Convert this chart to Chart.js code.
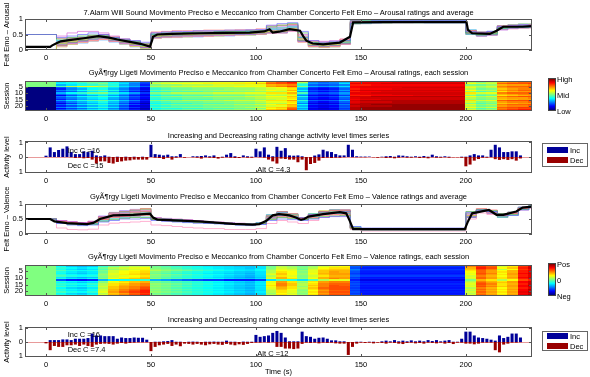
<!DOCTYPE html>
<html>
<head>
<meta charset="utf-8">
<script src="https://cdn.jsdelivr.net/npm/chart.js@4.4.1/dist/chart.umd.min.js"></script>
<style>
  body { margin: 0; background: #fff; }
  #fig { position: relative; width: 590px; height: 377px; background: #fff; overflow: hidden;
         font-family: 'Liberation Sans', Arial, sans-serif; font-size: 7.5px; color: #000; }
  #fig canvas { position: absolute; left: 0; }
  .title { position: absolute; left: 25px; width: 507px; text-align: center; white-space: nowrap; line-height: 9px; }
  .lbl { position: absolute; white-space: nowrap; line-height: 9px; }
  .cbar { position: absolute; left: 548px; width: 8px; box-sizing: border-box; border: 1px solid #444;
          background: linear-gradient(to top, #00007f 0%, #0000ff 12.5%, #00ffff 37.5%, #ffff00 62.5%, #ff0000 87.5%, #7f0000 100%); }
  .legend { position: absolute; left: 542px; width: 44px; border: 1px solid #666; background: #fff; }
  .sw { position: absolute; left: 547px; width: 21px; height: 6px; }
</style>
</head>
<body>
<div id="fig">
  <canvas id="c1" width="590" height="70" style="top:0px"></canvas>
  <canvas id="c2" width="590" height="52" style="top:72px"></canvas>
  <canvas id="c3" width="590" height="55" style="top:131px"></canvas>
  <canvas id="c4" width="590" height="72" style="top:184px"></canvas>
  <canvas id="c5" width="590" height="54" style="top:255px"></canvas>
  <canvas id="c6" width="590" height="61" style="top:316px"></canvas>

  <div class="title" style="top:7.8px">7.Alarm Will Sound Movimento Preciso e Meccanico from Chamber Concerto Felt Emo – Arousal ratings and average</div>
  <div class="title" style="top:68.3px">GyÃ¶rgy Ligeti Movimento Preciso e Meccanico from Chamber Concerto Felt Emo – Arousal ratings, each session</div>
  <div class="title" style="top:130.6px">Increasing and Decreasing rating change activity level times series</div>
  <div class="title" style="top:192.3px">GyÃ¶rgy Ligeti Movimento Preciso e Meccanico from Chamber Concerto Felt Emo – Valence ratings and average</div>
  <div class="title" style="top:252.3px">GyÃ¶rgy Ligeti Movimento Preciso e Meccanico from Chamber Concerto Felt Emo – Valence ratings, each session</div>
  <div class="title" style="top:315px">Increasing and Decreasing rating change activity level times series</div>

  <div class="cbar" style="top:78px; height:33px"></div>
  <div class="lbl" style="left:557px; top:75px">High</div>
  <div class="lbl" style="left:557px; top:90.6px">Mid</div>
  <div class="lbl" style="left:557px; top:106.6px">Low</div>

  <div class="cbar" style="top:263px; height:33px"></div>
  <div class="lbl" style="left:557px; top:260px">Pos</div>
  <div class="lbl" style="left:557px; top:276px">0</div>
  <div class="lbl" style="left:557px; top:291.6px">Neg</div>

  <div class="legend" style="top:143px; height:22px"></div>
  <div class="sw" style="top:147px; background:#000099"></div>
  <div class="sw" style="top:157px; background:#990000"></div>
  <div class="lbl" style="left:570px; top:145.6px">Inc</div>
  <div class="lbl" style="left:570px; top:155.6px">Dec</div>

  <div class="legend" style="top:331px; height:18px"></div>
  <div class="sw" style="top:333px; background:#000099"></div>
  <div class="sw" style="top:343px; background:#990000"></div>
  <div class="lbl" style="left:570px; top:332.3px">Inc</div>
  <div class="lbl" style="left:570px; top:341.6px">Dec</div>

  <div class="lbl" style="left:67.7px; top:145.8px">Inc C =16</div>
  <div class="lbl" style="left:67.7px; top:161px">Dec C =15</div>
  <div class="lbl" style="left:257.3px; top:165px">Alt C =4.3</div>
  <div class="lbl" style="left:67.7px; top:330px">Inc C =16</div>
  <div class="lbl" style="left:67.7px; top:345px">Dec C =7.4</div>
  <div class="lbl" style="left:257.3px; top:349px">Alt C =12</div>
</div>

<script>
// Felt emotion ratings, one row per session (23 sessions), values in percent of the 0..1 scale
// each value holds from sessionTimes[c] to sessionTimes[c + 1]

const xTickValues = [0, 50, 100, 150, 200];
const sessionTimes = [-10, -5, 0, 5, 10, 15, 20, 25, 30, 35, 40, 45, 50, 55, 60, 65, 70, 75, 80, 85, 90, 95,
    100, 105, 110, 115, 120, 125, 130, 135, 140, 145, 150, 155, 160, 165, 170, 175, 180, 185, 190, 195,
    200, 205, 210, 215, 220, 225, 230, 235];

const arousalSessions = [
    [50,50,50, 40,45,50,55, 50,40,35,30,25, 55,58,60,60,62,62,62,64,64,65,66, 80,85,88, 60,30,25,28,30, 88,88,88,90,90,90,90,88,88,88,88, 60,55,60, 75,78,80,80],
    [50,50,50, 35,40,45,48, 45,38,32,28,20, 52,55,55,56,58,58,60,60,60,62,62, 75,80,85, 55,25,22,25,30, 85,88,88,88,90,90,90,90,90,90,90, 55,50,55, 72,75,78,78],
    [50,50,50, 38,38,40,45, 50,42,35,25,18, 58,60,62,62,62,64,64,64,65,65,68, 78,80,82, 45,28,25,25,35, 90,90,90,92,92,92,92,92,92,92,92, 62,58,58, 78,80,80,82],
    [50,50,50, 30,35,40,42, 45,40,30,25,15, 50,52,52,55,55,55,58,58,58,60,60, 70,72,75, 40,22,20,22,25, 85,85,88,88,88,88,88,88,88,88,88, 50,48,52, 70,72,72,75],
    [50,50,50, 45,55,60,60, 55,45,35,30,22, 55,55,58,58,60,60,60,60,62,62,62, 72,75,80, 50,30,28,30,35, 88,90,90,90,90,90,90,90,90,90,90, 58,55,58, 75,78,78,80],
    [0,0,0, 20,28,35,40, 42,35,28,20,12, 45,48,50,50,52,52,52,52,54,54,56, 60,62,68, 35,18,15,18,25, 88,90,90,90,90,92,92,92,92,92,92, 60,52,55, 72,75,75,78],
    [0,0,0, 15,25,30,38, 40,32,25,18,10, 42,45,48,48,50,50,50,52,52,52,55, 58,60,65, 30,15,12,15,22, 85,88,88,88,90,90,90,90,90,90,90, 55,48,50, 68,72,75,75],
    [0,0,0, 25,30,38,45, 48,40,30,22,15, 48,50,50,52,52,52,54,54,54,55,58, 62,60,70, 38,20,18,20,28, 90,92,92,92,92,92,92,92,92,92,92, 62,55,55, 72,75,78,78],
    [0,0,0, 18,22,28,35, 38,30,22,15,8, 40,42,45,45,45,48,48,48,50,50,52, 55,55,62, 28,15,12,15,20, 85,88,88,90,90,90,90,90,90,90,90, 52,45,48, 65,70,72,72],
    [0,0,0, 30,38,42,48, 50,42,35,28,18, 50,52,55,55,55,55,58,58,58,60,60, 65,65,70, 45,22,20,22,28, 90,90,92,92,92,92,92,92,92,92,92, 65,58,60, 75,78,78,80],
    [0,0,0, 22,28,32,38, 40,35,28,20,12, 45,48,48,50,50,50,52,52,52,54,55, 60,58,65, 32,18,15,18,25, 88,90,90,90,92,92,92,92,92,92,92, 58,50,52, 70,72,75,75],
    [0,0,0, 12,20,25,30, 35,28,22,15,10, 38,42,42,45,45,45,48,48,48,50,52, 55,55,60, 25,12,10,12,18, 85,85,88,88,88,88,90,90,90,90,90, 50,45,48, 65,68,70,72],
    [0,0,0, 25,32,38,42, 45,38,30,22,15, 48,50,52,52,52,55,55,55,55,58,58, 62,62,68, 40,20,18,20,28, 92,92,95,95,95,95,95,95,95,95,95, 62,55,58, 75,78,80,80],
    [0,0,0, 20,25,30,35, 38,30,25,18,12, 42,45,45,48,48,48,50,50,50,52,55, 58,58,65, 30,15,12,15,22, 90,92,92,92,92,92,92,92,92,92,92, 55,50,52, 70,72,72,75],
    [0,0,0, 15,22,28,32, 35,28,22,15,8, 40,42,42,45,45,45,48,48,50,50,52, 55,58,62, 28,12,10,12,20, 88,90,90,92,92,92,92,92,92,92,92, 52,48,50, 68,70,72,72],
    [0,0,0, 28,35,40,45, 48,40,32,25,15, 50,52,52,55,55,55,55,58,58,58,60, 65,65,72, 42,22,20,22,30, 92,95,95,95,95,95,95,95,95,95,95, 65,58,60, 78,80,80,82],
    [0,0,0, 18,25,30,35, 40,32,25,18,10, 42,45,48,48,48,50,50,50,52,52,55, 60,60,65, 32,15,12,15,22, 90,92,92,92,95,95,95,95,95,95,95, 58,50,52, 72,75,75,78],
    [0,0,0, 10,18,25,30, 35,28,20,12,5, 38,40,42,42,45,45,45,48,48,48,50, 55,55,62, 25,10,8,10,18, 92,95,95,95,95,95,95,95,95,95,95, 50,45,48, 68,70,72,72],
    [0,0,0, 22,30,35,40, 42,35,28,20,12, 45,48,50,50,50,52,52,52,55,55,58, 62,65,70, 38,18,15,18,25, 95,95,98,98,98,98,98,98,98,98,98, 60,52,55, 75,78,78,80],
    [0,0,0, 15,20,25,30, 35,28,20,12,8, 40,42,45,45,45,48,48,48,50,50,52, 58,60,68, 30,12,10,12,20, 92,95,95,95,98,98,98,98,98,98,98, 55,48,50, 72,75,75,78],
    [0,0,0, 25,30,35,40, 42,35,25,18,10, 45,48,48,50,50,50,52,52,52,55,58, 65,68,75, 35,15,12,15,22, 95,98,98,98,98,98,98,98,98,98,98, 62,55,58, 78,80,82,82],
    [0,0,0, 12,18,22,28, 32,25,18,10,5, 38,40,40,42,42,45,45,45,48,48,50, 62,65,78, 28,10,8,10,18, 95,98,98,98,98,98,98,98,98,98,98, 52,45,48, 75,78,80,80],
    [0,0,0, 20,25,30,35, 38,30,22,15,8, 42,45,45,48,48,48,50,50,52,52,55, 68,70,80, 32,12,10,12,20, 95,98,98,98,98,98,98,98,98,98,98, 58,50,52, 78,82,85,85]
];

const valenceSessions = [
    [50,50,50, 35,30,28,30, 40,45,50,50,52, 45,42,40,38,36,35,34,32,30,30,32, 45,50,48, 45,50,55,58,58, 25,20,20,20,20,20,20,20,20,20,20, 72,80,75, 60,62,80,88],
    [50,50,50, 38,32,30,32, 42,48,52,55,55, 48,45,42,40,38,36,35,34,32,32,35, 48,55,52, 48,52,58,60,62, 22,18,18,18,18,18,18,18,18,18,18, 75,82,78, 58,65,82,90],
    [50,50,50, 42,38,35,38, 48,55,58,60,62, 50,48,45,42,40,38,36,35,34,32,35, 50,58,55, 50,55,62,65,65, 20,15,15,15,15,15,15,15,15,15,15, 70,85,80, 62,68,85,92],
    [50,50,50, 40,35,32,35, 45,52,55,58,60, 52,50,48,45,42,40,38,36,35,34,38, 52,60,58, 48,58,65,68,68, 25,18,18,18,18,18,18,18,18,18,18, 68,80,75, 55,62,82,88],
    [50,50,50, 45,40,38,40, 50,58,60,62,65, 55,52,50,48,45,42,40,38,36,35,38, 55,62,60, 52,60,68,70,70, 22,16,16,16,16,16,16,16,16,16,16, 65,78,72, 62,70,85,90],
    [50,50,50, 40,36,34,36, 48,58,62,64,66, 50,48,45,42,40,38,36,35,33,32,35, 55,65,62, 50,60,68,72,70, 20,15,15,15,15,15,15,15,15,15,15, 62,78,72, 65,70,85,90],
    [50,50,50, 38,34,32,35, 50,60,62,65,68, 48,45,42,40,38,36,35,33,32,30,35, 58,68,62, 52,62,70,72,72, 18,14,14,14,14,14,14,14,14,14,14, 60,80,75, 62,72,88,92],
    [50,50,50, 42,38,36,38, 52,60,64,66,68, 52,50,48,45,42,40,38,36,34,32,35, 60,68,62, 52,60,68,72,72, 20,16,16,16,16,16,16,16,16,16,16, 62,78,72, 65,72,85,90],
    [50,50,50, 44,40,38,40, 50,58,60,62,65, 50,48,45,42,40,38,36,34,32,30,34, 55,65,60, 50,58,65,70,70, 22,18,18,18,18,18,18,18,18,18,18, 58,75,70, 62,70,85,90],
    [50,50,50, 36,32,30,32, 48,58,62,64,68, 48,45,42,40,38,36,34,32,30,28,32, 58,70,62, 50,60,70,72,72, 18,14,14,14,14,14,14,14,14,14,14, 60,78,72, 65,72,88,92],
    [50,50,50, 40,36,35,38, 52,62,65,68,70, 52,48,46,44,42,40,38,35,33,32,35, 60,70,65, 52,62,70,75,72, 20,15,15,15,15,15,15,15,15,15,15, 58,78,72, 65,70,85,90],
    [50,50,50, 20,15,14,16, 30,36,38,40,42, 30,28,25,22,20,18,18,15,15,15,18, 35,45,40, 35,45,55,60,60, 15,10,10,10,10,10,10,10,10,10,10, 50,70,65, 55,62,80,85],
    [50,50,50, 42,38,36,38, 52,62,66,68,70, 50,48,46,44,42,40,38,36,34,32,36, 62,72,65, 55,65,72,75,75, 20,15,15,15,15,15,15,15,15,15,15, 55,75,70, 65,72,88,92],
    [50,50,50, 38,35,32,35, 50,60,64,68,70, 48,46,44,42,40,38,36,34,32,30,35, 60,72,65, 52,62,72,75,75, 18,14,14,14,14,14,14,14,14,14,14, 58,78,72, 68,72,88,92],
    [50,50,50, 42,40,38,42, 55,65,68,72,75, 52,50,48,45,42,40,38,36,34,32,36, 62,75,68, 55,65,75,78,78, 20,16,16,16,16,16,16,16,16,16,16, 60,80,75, 65,70,85,92],
    [50,50,50, 40,36,34,38, 55,65,70,72,75, 50,48,45,42,40,38,36,34,32,30,34, 65,75,68, 55,68,75,80,78, 18,14,14,14,14,14,14,14,14,14,14, 58,78,72, 65,72,88,95],
    [50,50,50, 44,40,38,42, 58,68,72,75,78, 52,50,48,45,42,40,38,35,33,32,36, 62,72,65, 52,65,75,80,80, 20,15,15,15,15,15,15,15,15,15,15, 60,80,75, 68,72,88,92],
    [50,50,50, 38,34,32,36, 55,68,72,75,80, 50,48,45,42,40,38,36,34,32,30,35, 60,70,65, 55,68,78,80,80, 18,14,14,14,14,14,14,14,14,14,14, 55,75,70, 62,70,85,90],
    [50,50,50, 42,38,36,40, 58,70,75,78,82, 52,50,48,45,42,40,38,36,34,32,35, 58,68,62, 52,65,75,80,80, 20,16,16,16,16,16,16,16,16,16,16, 58,78,72, 65,72,88,95],
    [50,50,50, 40,36,34,38, 58,70,75,80,85, 50,48,45,42,40,38,36,34,32,30,34, 55,65,60, 50,62,72,78,78, 18,14,14,14,14,14,14,14,14,14,14, 55,75,70, 62,70,88,92],
    [50,50,50, 44,40,38,42, 60,72,78,82,85, 52,50,48,45,42,40,38,36,34,32,36, 55,65,60, 52,65,75,80,80, 20,15,15,15,15,15,15,15,15,15,15, 58,78,72, 65,72,90,95],
    [50,50,50, 38,34,32,36, 55,68,72,78,82, 48,46,44,42,40,38,36,34,32,30,34, 52,62,58, 50,62,72,78,78, 18,14,14,14,14,14,14,14,14,14,14, 55,75,70, 62,70,88,92],
    [50,50,50, 40,36,34,38, 58,70,75,80,85, 50,48,45,42,40,38,36,34,32,30,34, 55,65,60, 52,65,75,80,80, 20,15,15,15,15,15,15,15,15,15,15, 58,78,72, 65,72,90,95]
];

// Average rating (thick black line), read at the turning points
const arousalAvgTimes = [-10, 2, 3, 5, 7, 11, 18, 25, 30, 34, 40, 45, 49.5, 50.5, 51, 53, 60, 73, 85, 97, 104, 106.5,
    108, 111, 116, 121, 122.5, 124, 127, 132, 140, 144.8, 146.3, 160, 180, 200.3, 201, 203, 211.4, 214.6, 217.8, 227, 231.5];
const arousalAvg = [0.1, 0.1, 0.15, 0.22, 0.28, 0.32, 0.38, 0.45, 0.4, 0.34, 0.26, 0.2, 0.11, 0.3, 0.43, 0.5, 0.52,
    0.54, 0.55, 0.56, 0.6, 0.67, 0.56, 0.59, 0.67, 0.62, 0.45, 0.3, 0.21, 0.18, 0.24, 0.43, 0.89, 0.9, 0.9, 0.9,
    0.65, 0.54, 0.52, 0.62, 0.75, 0.75, 0.77];

const valenceAvgTimes = [-10, 2, 4, 10, 19.5, 22.5, 25.7, 32, 41.6, 49.5, 51, 53, 73, 89, 98.4, 101.6, 105, 108, 111,
    116, 119, 121.5, 123, 125, 132, 140, 143, 144.8, 146.3, 170, 199.5, 201, 203, 211, 214.6, 217.8, 224, 227, 231.5];
const valenceAvg = [0.5, 0.5, 0.42, 0.36, 0.33, 0.37, 0.5, 0.62, 0.64, 0.68, 0.55, 0.48, 0.42, 0.34, 0.31, 0.33, 0.44,
    0.62, 0.66, 0.62, 0.55, 0.47, 0.5, 0.58, 0.66, 0.73, 0.69, 0.42, 0.16, 0.16, 0.16, 0.42, 0.69, 0.8, 0.64, 0.64,
    0.75, 0.88, 0.91];

// Activity levels, one bar every 2 s from t = 0
const arousalInc = [0.09, 0.66, 0.34, 0.48, 0.57, 0.73, 0.34, 0.2, 0.2, 0.39, 0.34, 0.43, 0.11, 0.05, 0.11, 0.02,
    0, 0.02, 0, 0.02, 0, 0.02, 0, 0.02, 0, 0.84, 0.2, 0.16, 0.11, 0.16, 0.05, 0.05, 0.2, 0, 0, 0.05, 0.05, 0.07,
    0.11, 0.05, 0.11, 0, 0.02, 0.16, 0.27, 0.05, 0, 0.11, 0.05, 0.02, 0.57, 0.39, 0.66, 0.16, 0.05, 0.7, 0.43,
    0.61, 0.11, 0.09, 0.11, 0.05, 0, 0, 0.1, 0.18, 0.5, 0.39, 0.34, 0.2, 0.11, 0.11, 0.84, 0.5, 0.05, 0.03, 0.03,
    0.03, 0, 0, 0.02, 0.05, 0.07, 0.02, 0.11, 0.09, 0.05, 0.02, 0.05, 0.02, 0.07, 0.02, 0.16, 0.05, 0.02, 0.05,
    0.02, 0, 0, 0.02, 0.02, 0.11, 0.2, 0.11, 0.11, 0.02, 0.5, 0.84, 0.66, 0.34, 0.34, 0.39, 0.39, 0.11, 0, 0];
const arousalDec = [0, 0, 0, 0, 0, 0, 0.02, 0.07, 0.05, 0.09, 0.07, 0.18, 0.45, 0.3, 0.3, 0.41, 0.45, 0.34, 0.3,
    0.25, 0.23, 0.18, 0.18, 0.18, 0.18, 0, 0.05, 0.07, 0.14, 0.05, 0.18, 0.05, 0.02, 0.05, 0, 0.02, 0.05, 0.11,
    0.02, 0.05, 0.07, 0.11, 0.05, 0.02, 0.05, 0.07, 0.07, 0.02, 0.05, 0.05, 0, 0.02, 0.05, 0.18, 0.3, 0.45, 0.11,
    0.14, 0.18, 0.18, 0.36, 0.18, 0.91, 0.48, 0.41, 0.25, 0.07, 0.05, 0.07, 0.05, 0.05, 0.02, 0, 0.02, 0.02, 0.02,
    0.02, 0, 0.02, 0.05, 0.02, 0.07, 0.05, 0.09, 0.05, 0.02, 0.05, 0.05, 0.02, 0.07, 0.05, 0.09, 0.02, 0.05, 0.05,
    0.02, 0.05, 0.02, 0.02, 0.05, 0.64, 0.52, 0.25, 0.14, 0.05, 0.05, 0.02, 0.15, 0.2, 0.15, 0.2, 0.15, 0.25, 0.1,
    0, 0];
const valenceInc = [0, 0.14, 0.14, 0.14, 0.19, 0.19, 0.14, 0.24, 0.24, 0.24, 0.29, 0.62, 0.48, 0.48, 0.43, 0.43,
    0.43, 0.24, 0.33, 0.29, 0.29, 0.33, 0.31, 0.31, 0.17, 0, 0.02, 0.02, 0.05, 0.07, 0.14, 0.02, 0.02, 0, 0.02,
    0.03, 0.02, 0, 0.02, 0.02, 0.03, 0.02, 0.02, 0.1, 0.02, 0.02, 0, 0.03, 0.02, 0.02, 0.52, 0.38, 0.43, 0.48,
    0.67, 0.81, 0.67, 0.33, 0.05, 0.05, 0.05, 0.76, 0.43, 0.38, 0.24, 0.31, 0.33, 0.24, 0.12, 0.12, 0.05, 0.05, 0,
    0, 0.02, 0.02, 0, 0.02, 0.02, 0, 0.05, 0.1, 0.05, 0.14, 0.05, 0.1, 0.05, 0.12, 0.05, 0.1, 0.05, 0.14, 0.07,
    0.14, 0.05, 0.1, 0.14, 0.02, 0.02, 0.24, 0.76, 0.76, 0.48, 0.33, 0.29, 0.24, 0.17, 0.1, 0.48, 0.29, 0.38, 0.62,
    0.62, 0.33, 0, 0];
const valenceDec = [0.1, 0.6, 0.29, 0.36, 0.36, 0.24, 0.24, 0.19, 0.29, 0.19, 0.29, 0.36, 0.19, 0.14, 0.12, 0.14,
    0.19, 0.12, 0.07, 0.12, 0.07, 0.05, 0.03, 0.03, 0.03, 0.67, 0.36, 0.24, 0.19, 0.14, 0.29, 0.19, 0.31, 0.12,
    0.14, 0.19, 0.14, 0.19, 0.24, 0.17, 0.14, 0.19, 0.21, 0.14, 0.19, 0.24, 0.17, 0.21, 0.14, 0.07, 0.05, 0.05,
    0.02, 0.05, 0.02, 0.36, 0.36, 0.48, 0.48, 0.52, 0.48, 0.14, 0.05, 0.07, 0.05, 0.1, 0.05, 0.07, 0.05, 0.1, 0.12,
    0.12, 0.95, 0.36, 0.12, 0.05, 0.07, 0.05, 0.1, 0.05, 0.07, 0.12, 0.05, 0.07, 0.12, 0.15, 0.07, 0.05, 0.1, 0.07,
    0.12, 0.05, 0.07, 0.1, 0.05, 0.12, 0.07, 0.15, 0.05, 0.05, 0.12, 0.12, 0.17, 0.12, 0.05, 0.05, 0.05, 0.6, 0.76,
    0.19, 0.12, 0.05, 0.05, 0.02, 0, 0];
const barTimes = arousalInc.map((v, i) => i * 2);

const lineColors = ['#6a6aff', '#4db34d', '#ff6b6b', '#3cc8c8', '#d966d9', '#d4d44a', '#8c8c8c', '#ffa54f',
    '#a070ff', '#7fbfff', '#8fd18f', '#ff8fbf'];
const incColor = '#000099';
const decColor = '#990000';
const FONT = { family: "'Liberation Sans', Arial, sans-serif", size: 7.5 };

function jet(v) {
    const c = k => Math.round(255 * Math.max(0, Math.min(1, 1.5 - Math.abs(4 * v - k))));
    return `rgb(${c(3)},${c(2)},${c(1)})`;
}

// Box round the plot with short inward ticks, like the original axes
const framePlugin = {
    id: 'frame',
    afterDatasetsDraw(chart) {
        const { ctx, chartArea: a, scales: { x, y } } = chart;
        ctx.save();
        ctx.strokeStyle = '#555';
        ctx.lineWidth = 1;
        ctx.strokeRect(a.left + 0.5, a.top + 0.5, a.right - a.left - 1, a.bottom - a.top - 1);
        ctx.beginPath();
        x.ticks.forEach(t => {
            const px = Math.round(x.getPixelForValue(t.value)) + 0.5;
            ctx.moveTo(px, a.top); ctx.lineTo(px, a.top + 3);
            ctx.moveTo(px, a.bottom); ctx.lineTo(px, a.bottom - 3);
        });
        y.ticks.forEach(t => {
            const py = Math.round(y.getPixelForValue(t.value)) + 0.5;
            ctx.moveTo(a.left, py); ctx.lineTo(a.left + 3, py);
            ctx.moveTo(a.right, py); ctx.lineTo(a.right - 3, py);
        });
        ctx.stroke();
        ctx.restore();
    }
};

const zeroLinePlugin = {
    id: 'zeroLine',
    beforeDatasetsDraw(chart) {
        const { ctx, chartArea: a, scales: { y } } = chart;
        const py = Math.round(y.getPixelForValue(0)) + 0.5;
        ctx.save();
        ctx.strokeStyle = '#e89a9a';
        ctx.lineWidth = 1;
        ctx.beginPath();
        ctx.moveTo(a.left, py);
        ctx.lineTo(a.right, py);
        ctx.stroke();
        ctx.restore();
    }
};

function heatmapLayer(rows) {
    return {
        id: 'heatmap',
        beforeDatasetsDraw(chart) {
            const { ctx, chartArea: a, scales: { x, y } } = chart;
            ctx.save();
            ctx.beginPath();
            ctx.rect(a.left, a.top, a.right - a.left, a.bottom - a.top);
            ctx.clip();
            rows.forEach((row, r) => {
                const yTop = y.getPixelForValue(r + 0.5);
                const yBot = y.getPixelForValue(r + 1.5);
                row.forEach((v, c) => {
                    const x0 = x.getPixelForValue(sessionTimes[c]);
                    const x1 = x.getPixelForValue(sessionTimes[c + 1]);
                    ctx.fillStyle = jet(v / 100);
                    ctx.fillRect(Math.floor(x0), Math.floor(yTop), Math.ceil(x1) - Math.floor(x0), Math.ceil(yBot) - Math.floor(yTop));
                });
            });
            ctx.restore();
        }
    };
}

function timeAxis(height, title) {
    return {
        type: 'linear', min: -10, max: 231.5, offset: false,
        afterBuildTicks: s => { s.ticks = xTickValues.map(v => ({ value: v })); },
        afterFit: s => { s.height = height; },
        grid: { display: false, drawTicks: false, offset: false },
        border: { display: false },
        ticks: { padding: 3, autoSkip: false, maxRotation: 0, color: '#000', font: FONT, callback: v => String(v) },
        title: title
            ? { display: true, text: title, color: '#000', font: FONT, padding: { top: 0, bottom: 0.5 } }
            : { display: false }
    };
}

function valueAxis(min, max, tickValues, label, reverse) {
    return {
        type: 'linear', min, max, reverse: !!reverse,
        afterBuildTicks: s => { s.ticks = tickValues.map(v => ({ value: v })); },
        afterFit: s => { s.width = 25; },
        grid: { display: false, drawTicks: false },
        border: { display: false },
        ticks: { padding: 2, autoSkip: false, color: '#000', font: FONT, callback: v => String(Math.abs(v)) },
        title: { display: true, text: label, color: '#000', font: FONT, padding: { top: 2.5, bottom: 0 } }
    };
}

function baseOptions(padTop, scales) {
    return {
        responsive: false,
        animation: false,
        devicePixelRatio: 1,
        events: [],
        layout: { autoPadding: false, padding: { top: padTop, right: 58, bottom: 0, left: 0 } },
        plugins: { legend: { display: false }, tooltip: { enabled: false } },
        scales
    };
}

function ratingsChart(id, padTop, axisH, sessions, avgTimes, avg, label) {
    const datasets = [{
        data: avgTimes.map((t, i) => ({ x: t, y: avg[i] })),
        borderColor: '#000', borderWidth: 2.2, pointRadius: 0, tension: 0
    }];
    sessions.forEach((row, s) => {
        datasets.push({
            data: sessionTimes.map((t, c) => ({ x: t, y: row[Math.min(c, row.length - 1)] / 100 })),
            borderColor: lineColors[s % lineColors.length],
            borderWidth: 0.7, pointRadius: 0, stepped: 'before'
        });
    });
    new Chart(document.getElementById(id), {
        type: 'line',
        data: { datasets },
        options: baseOptions(padTop, {
            x: timeAxis(axisH),
            y: valueAxis(0, 1, [0, 0.5, 1], label)
        }),
        plugins: [framePlugin]
    });
}

function sessionsChart(id, padTop, axisH, sessions) {
    new Chart(document.getElementById(id), {
        type: 'scatter',
        data: { datasets: [] },
        options: baseOptions(padTop, {
            x: timeAxis(axisH),
            y: valueAxis(0.5, sessions.length + 0.5, [5, 10, 15, 20], 'Session', true)
        }),
        plugins: [heatmapLayer(sessions), framePlugin]
    });
}

function activityChart(id, padTop, axisH, inc, dec, xTitle) {
    const x = timeAxis(axisH, xTitle);
    x.stacked = true;
    const y = valueAxis(-1.1, 1.1, [-1, 0, 1], 'Activity level');
    y.stacked = true;
    new Chart(document.getElementById(id), {
        type: 'bar',
        data: {
            datasets: [
                { label: 'Inc', data: inc.map((v, i) => ({ x: barTimes[i], y: v })), backgroundColor: incColor },
                { label: 'Dec', data: dec.map((v, i) => ({ x: barTimes[i], y: -v })), backgroundColor: decColor }
            ]
        },
        options: baseOptions(padTop, { x, y }),
        plugins: [zeroLinePlugin, framePlugin]
    });
}

ratingsChart('c1', 19, 20, arousalSessions, arousalAvgTimes, arousalAvg, 'Felt Emo – Arousal');
sessionsChart('c2', 9, 13, arousalSessions);
activityChart('c3', 10, 13, arousalInc, arousalDec);
ratingsChart('c4', 20, 22, valenceSessions, valenceAvgTimes, valenceAvg, 'Felt Emo – Valence');
sessionsChart('c5', 10, 13, valenceSessions);
activityChart('c6', 11, 20, valenceInc, valenceDec, 'Time (s)');
</script>
</body>
</html>
